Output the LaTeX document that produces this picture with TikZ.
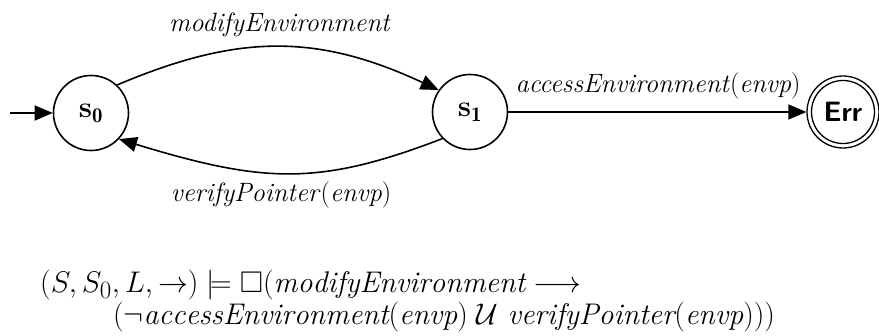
\documentclass[tikz,border=0pt]{standalone}
\usepackage{amsmath,amssymb}
\usepackage{fontspec}
\usetikzlibrary{arrows.meta}
\begin{document}
\begin{tikzpicture}[x=1pt,y=1pt,
  every node/.style={font=\fontsize{26.5}{31}\selectfont},
  state/.style={circle,draw,line width=1.6pt,minimum size=75pt,inner sep=0pt,font=\fontsize{29.86}{34}\selectfont},
  arr/.style={line width=1.6pt,-{Triangle[length=18pt,width=15pt]}},
  lbl/.style={anchor=base,inner sep=0pt},
  formula/.style={anchor=base west,inner sep=0pt,font=\fontsize{24.88}{30}\selectfont,scale=1.2,transform shape}]
\useasboundingbox (0,0) rectangle (879,336);
\node[state] (s0) at (91,223) {\textbf{s}$_{\mathbf{0}}$};
\node[state] (s1) at (470,224) {\textbf{s}$_{\mathbf{1}}$};
\node[circle,draw,line width=1.3pt,minimum size=72pt,inner sep=0pt,font=\fontsize{28}{32}\selectfont] (err) at (843,224) {\sffamily\bfseries Err};
\draw[line width=1.3pt] (err.center) circle (31.5pt);
\coordinate (init) at (10,223);
\draw[arr] (init) -- (s0);
\draw[arr] (s0.47) .. controls +(23:130pt) and +(155:135pt) .. (s1.145);
\draw[arr] (s1.224) .. controls +(201:132pt) and +(-17:152pt) .. (s0.317);
\draw[arr] (s1) -- (err);
\node[lbl] (l1) at (280,304) {\textit{modifyEnvironment}};
\node[lbl] (l2) at (281,134) {\textit{verifyPointer}(\textit{envp})};
\node[lbl] (l3) at (658,243) {\textit{accessEnvironment}(\textit{envp})};
\node[formula] (f1) at (40,43) {$(S, S_0, L, \rightarrow) \models \Box(\mathit{modifyEnvironment} \longrightarrow$};
\node[formula] (f2) at (113,11) {$(\neg\mathit{accessEnvironment}(\mathit{envp})\ \mathcal{U}\ \mathit{verifyPointer}(\mathit{envp})))$};
\end{tikzpicture}
\end{document}
